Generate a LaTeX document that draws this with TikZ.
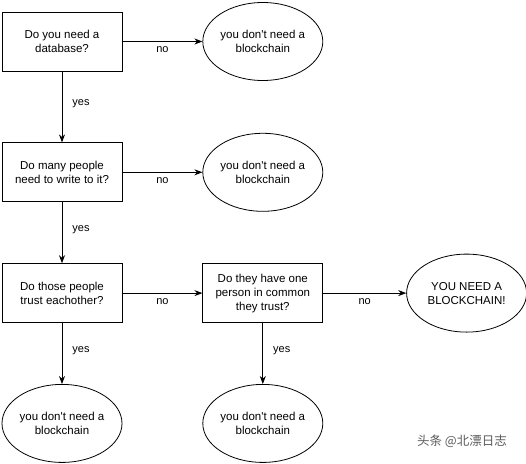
\documentclass[tikz,border=0pt]{standalone}
\usepackage{fontspec}
\setmainfont{Liberation Sans}
\newfontfamily\cjkfont{Noto Sans CJK SC}
\usepackage{xcolor}
\definecolor{markgray}{RGB}{90,90,90}
\usetikzlibrary{shapes.geometric,arrows.meta,positioning}
\newcommand{\nochain}{you don\textquotesingle t need a\\blockchain}

\begin{document}
\begin{tikzpicture}[
  x=1pt, y=1pt,
  node distance=71pt and 80pt,
  question/.style={rectangle, draw=black, line width=0.8pt, align=center,
                   minimum width=120pt, minimum height=59pt, inner sep=0pt,
                   font=\fontsize{11.5}{14}\selectfont},
  answer/.style={ellipse, draw=black, line width=0.8pt, align=center,
                 minimum width=120pt, minimum height=78pt, inner sep=0pt,
                 font=\fontsize{11.5}{14}\selectfont},
  lbl/.style={font=\fontsize{11}{13}\selectfont, inner sep=2pt},
  arrow/.style={line width=0.8pt, -{Stealth[length=8pt,width=6pt]}}
]
  \useasboundingbox (0,0) rectangle (526,-463);
  % Column 1: the three questions
  \node[question] (q1) at (62,-41.5) {Do you need a\\database?};
  \node[question, below=of q1] (q2) {Do many people\\need to write to it?};
  \node[question, below=61pt of q2] (q3) {Do those people\\trust eachother?};
  % Last question and the answers
  \node[question, right=of q3] (q4) {Do they have one\\person in common\\they trust?};
  \node[answer, right=of q1] (a1) {\nochain};
  \node[answer, right=of q2] (a2) {\nochain};
  \node[answer, right=83pt of q4] (a5) {YOU NEED A\\BLOCKCHAIN!};
  \node[answer, below=61pt of q3] (a3) {\nochain};
  \node[answer, below=61pt of q4] (a4) {\nochain};
  % "no" arrows
  \draw[arrow] (q1) -- node[lbl, below=3pt] {no} (a1);
  \draw[arrow] (q2) -- node[lbl, below=3pt] {no} (a2);
  \draw[arrow] (q3) -- node[lbl, below=3pt] {no} (q4);
  \draw[arrow] (q4) -- node[lbl, below=3pt] {no} (a5);
  % "yes" arrows
  \draw[arrow] (q1) -- node[lbl, pos=0.45, right=8pt] {yes} (q2);
  \draw[arrow] (q2) -- node[lbl, pos=0.45, right=8pt] {yes} (q3);
  \draw[arrow] (q3) -- node[lbl, pos=0.45, right=8pt] {yes} (a3);
  \draw[arrow] (q4) -- node[lbl, pos=0.45, right=8pt] {yes} (a4);
  % Watermark
  \node[font=\cjkfont\fontsize{12.5}{14}\selectfont, text=markgray] (mark) at (462,-441) {头条 @北漂日志};
\end{tikzpicture}
\end{document}
